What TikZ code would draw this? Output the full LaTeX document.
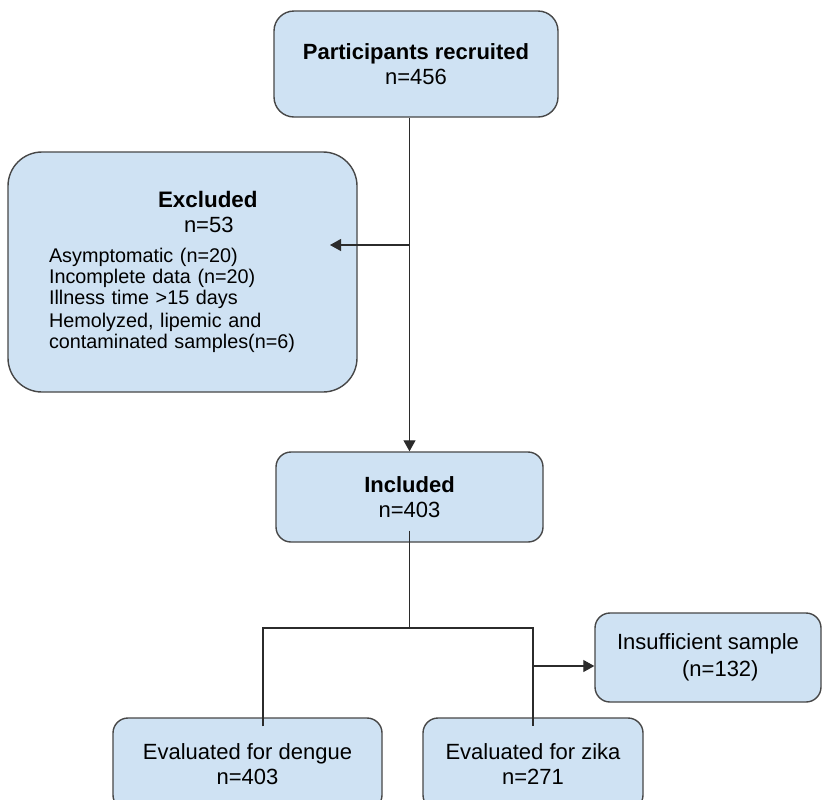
\documentclass[tikz,border=0pt]{standalone}
\usepackage{fontspec}
\setmainfont{Liberation Sans}
\usetikzlibrary{shapes.geometric, arrows.meta}
\definecolor{boxfill}{HTML}{CFE2F3}
\definecolor{boxline}{HTML}{474747}
\definecolor{linecol}{HTML}{2B2B2B}
\tikzstyle{stage} = [rectangle, rounded corners=7.5pt, draw=boxline, fill=boxfill, line width=0.7pt, align=center, inner sep=0pt, font=\fontsize{11}{12.5}\selectfont]
\tikzstyle{arrow} = [line width=0.55pt, draw=linecol, ->, >={Triangle[length=5.5pt,width=6pt]}]
\tikzstyle{line} = [line width=0.55pt, draw=linecol]

\begin{document}
\begin{tikzpicture}[x=0.5pt, y=-0.5pt]
        \clip (0,0) rectangle (823,799);
        \fill[white] (0,0) rectangle (823,799);

        \node (recruited) [stage, rounded corners=10pt, minimum width=142pt, minimum height=53pt] at (416,64) {\textbf{Participants recruited}\\n=456};
        \node (excluded) [stage, rounded corners=17pt, minimum width=174.5pt, minimum height=120pt, text width=133.5pt, align=left, font=\fontsize{9.9}{10.4}\selectfont] at (182.5,272) {\hspace*{54.5pt}{\fontsize{11.2}{12}\selectfont\bfseries Excluded}\\[2.1pt]\hspace*{67.5pt}{\fontsize{11}{12}\selectfont n=53}\\[4.6pt]Asymptomatic (n=20)\\Incomplete data (n=20)\\Illness time >15 days\\[1pt]Hemolyzed, lipemic and\\contaminated samples(n=6)};
        \node (included) [stage, minimum width=133.5pt, minimum height=45pt] at (409.5,497) {\textbf{Included}\\n=403};
        \node (insufficient) [stage, minimum width=113pt, minimum height=44.5pt, align=left, font=\fontsize{11}{13.5}\selectfont] at (708,657.5) {Insufficient sample\\\hspace*{32.5pt}(n=132)};
        \node (dengue) [stage, minimum width=134.5pt, minimum height=46pt] at (247.5,764) {Evaluated for dengue\\n=403};
        \node (zika) [stage, minimum width=110pt, minimum height=46pt] at (533,764) {Evaluated for zika\\n=271};

        \coordinate (split) at (409.5,245);
        \coordinate (excluded tip) at (330,245);
        \coordinate (fork) at (409.5,628);
        \coordinate (fork left) at (263,628);
        \coordinate (fork right) at (533,628);
        \coordinate (zika branch) at (534,666);

        \draw [arrow] (recruited.south -| included.north) -- (included.north);
        \draw [arrow] (split) -- (excluded tip);
        \draw [line] ([yshift=6pt]included.south) -- (fork);
        \draw [line] ([yshift=-4.5pt]dengue.north -| fork left) -- (fork left) -- (fork right) -- ([yshift=-4.5pt]zika.north);
        \draw [arrow] (zika branch) -- (insufficient.west |- zika branch);

\end{tikzpicture}
\end{document}
